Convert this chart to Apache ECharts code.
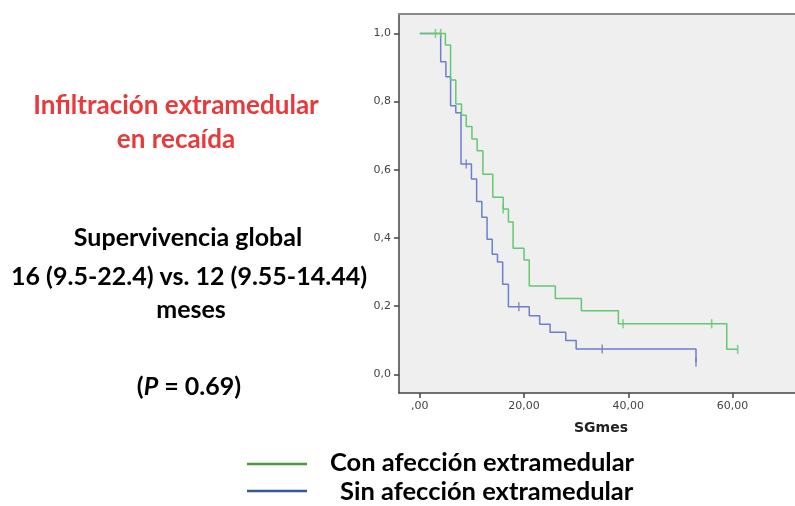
<!DOCTYPE html>
<html>
<head>
<meta charset="utf-8">
<script src="https://cdn.jsdelivr.net/npm/echarts@6/dist/echarts.min.js"></script>
<style>
html,body{margin:0;padding:0;background:#fff;}
#c{width:795px;height:506px;}
</style>
</head>
<body>
<div id="c"></div>
<script>
// Kaplan-Meier: Con afección extramedular (green)
const conTimes = [0, 4.9, 5.9, 6.9, 8.0, 8.9, 10.0, 11.0, 12.1, 14.0, 16.0, 17.0, 17.9, 20.0, 21.0, 26.0, 31.0, 38.1, 58.9, 61.0];
const conSurv  = [1, 0.966, 0.863, 0.793, 0.760, 0.727, 0.690, 0.656, 0.587, 0.519, 0.485, 0.447, 0.370, 0.335, 0.259, 0.222, 0.186, 0.148, 0.073, 0.073];
const conCensTimes = [3.0, 4.0, 16.0, 39.0, 56.0, 61.0];
const conCensSurv  = [1.0, 1.0, 0.485, 0.148, 0.148, 0.073];

// Sin afección extramedular (blue)
const sinTimes = [0, 4.0, 5.0, 5.9, 6.9, 7.9, 9.9, 10.9, 11.9, 12.9, 13.9, 14.9, 15.9, 17.0, 21.0, 23.0, 25.0, 28.0, 30.0, 53.0];
const sinSurv  = [1, 0.917, 0.873, 0.788, 0.767, 0.617, 0.573, 0.507, 0.461, 0.396, 0.352, 0.329, 0.264, 0.198, 0.172, 0.147, 0.123, 0.099, 0.074, 0.035];
const sinCensTimes = [8.9, 19.0, 35.0, 53.0];
const sinCensSurv  = [0.617, 0.198, 0.074, 0.035];

const xTicks = [0, 20, 40, 60];
const xTickLabels = [',00', '20,00', '40,00', '60,00'];
const yTicks = [0, 0.2, 0.4, 0.6, 0.8, 1.0];
const yTickLabels = ['0,0', '0,2', '0,4', '0,6', '0,8', '1,0'];

const xTitle = 'SGmes';
const legendNames = ['Con afección extramedular', 'Sin afección extramedular'];

const zip = (a, b) => a.map((v, i) => [v, b[i]]);

const GREEN = '#63c970';
const BLUE = '#6b7fca';
const FONT = 'Lato, "Open Sans", sans-serif';

const chart = echarts.init(document.getElementById('c'), null, {renderer: 'canvas'});
chart.setOption({
  animation: false,
  backgroundColor: '#ffffff',
  grid: {
    left: 399, top: 14, width: 396, height: 379,
    show: true, backgroundColor: '#efefef', borderWidth: 0
  },
  xAxis: [{
    type: 'value', min: -4, max: 72, position: 'bottom',
    axisLine: {show: true, onZero: false, lineStyle: {color: '#444', width: 1.5}},
    axisTick: {show: true, length: 5, lineStyle: {color: '#444', width: 1.5}, customValues: xTicks},
    axisLabel: {
      show: true, margin: 8, color: '#444', fontSize: 11, fontFamily: 'DejaVu Sans, sans-serif',
      customValues: xTicks,
      formatter: v => xTickLabels[xTicks.indexOf(Math.round(v))]
    },
    splitLine: {show: false},
    name: xTitle, nameLocation: 'middle', nameGap: 28,
    nameTextStyle: {color: '#222', fontSize: 14, fontWeight: 'bold', fontFamily: 'DejaVu Sans, sans-serif', padding: [0, 0, 0, 8]}
  }, {
    type: 'value', min: -4, max: 72, position: 'top',
    axisLine: {show: true, onZero: false, lineStyle: {color: '#8a8a8a', width: 2}},
    axisTick: {show: false}, axisLabel: {show: false}, splitLine: {show: false}
  }],
  yAxis: {
    type: 'value', min: -0.055, max: 1.057,
    axisLine: {show: true, onZero: false, lineStyle: {color: '#444', width: 1.5}},
    axisTick: {show: true, length: 5, lineStyle: {color: '#444', width: 1.5}, customValues: yTicks},
    axisLabel: {
      show: true, margin: 8, color: '#444', fontSize: 11, fontFamily: 'DejaVu Sans, sans-serif',
      customValues: yTicks,
      formatter: v => yTickLabels[Math.round(v * 5)]
    },
    splitLine: {show: false}
  },
  series: [
    {
      name: legendNames[1], type: 'line', step: 'end', showSymbol: false,
      data: zip(sinTimes, sinSurv),
      lineStyle: {color: BLUE, width: 1.5}, itemStyle: {color: BLUE}, z: 2
    },
    {
      name: legendNames[0], type: 'line', step: 'end', showSymbol: false,
      data: zip(conTimes, conSurv),
      lineStyle: {color: GREEN, width: 1.5}, itemStyle: {color: GREEN}, z: 3
    },
    {
      type: 'scatter', data: zip(sinCensTimes, sinCensSurv),
      symbol: 'rect', symbolSize: [1.6, 9], itemStyle: {color: BLUE}, z: 4
    },
    {
      type: 'scatter', data: zip(conCensTimes, conCensSurv),
      symbol: 'rect', symbolSize: [1.6, 9], itemStyle: {color: GREEN}, z: 5
    }
  ],
  graphic: [
    {type: 'text', x: 176, y: 106, style: {text: 'Infiltración extramedular', fill: '#e8393b', font: 'bold 26px ' + FONT, align: 'center', verticalAlign: 'middle'}},
    {type: 'text', x: 176, y: 140, style: {text: 'en recaída', fill: '#e8393b', font: 'bold 26px ' + FONT, align: 'center', verticalAlign: 'middle'}},
    {type: 'text', x: 188, y: 238, style: {text: 'Supervivencia global', fill: '#000', font: 'bold 25px ' + FONT, align: 'center', verticalAlign: 'middle'}},
    {type: 'text', x: 189, y: 277, style: {text: '16 (9.5-22.4) vs. 12 (9.55-14.44)', fill: '#000', font: 'bold 25px ' + FONT, align: 'center', verticalAlign: 'middle'}},
    {type: 'text', x: 191, y: 310, style: {text: 'meses', fill: '#000', font: 'bold 25px ' + FONT, align: 'center', verticalAlign: 'middle'}},
    {type: 'text', x: 189, y: 387, style: {
      text: '{a|(}{i|P}{a| = 0.69)}', align: 'center', verticalAlign: 'middle',
      rich: {
        a: {fill: '#000', font: 'bold 25px ' + FONT},
        i: {fill: '#000', font: 'italic bold 25px ' + FONT}
      }
    }},
    {type: 'line', shape: {x1: 247, y1: 464, x2: 307, y2: 464}, style: {stroke: '#4a9a3a', lineWidth: 2.5}},
    {type: 'line', shape: {x1: 247, y1: 491, x2: 307, y2: 491}, style: {stroke: '#33599a', lineWidth: 2.5}},
    {type: 'text', x: 330, y: 463, style: {text: legendNames[0], fill: '#000', font: 'bold 25.5px ' + FONT, align: 'left', verticalAlign: 'middle'}},
    {type: 'text', x: 340, y: 492, style: {text: legendNames[1], fill: '#000', font: 'bold 25.5px ' + FONT, align: 'left', verticalAlign: 'middle'}}
  ]
});
</script>
</body>
</html>
